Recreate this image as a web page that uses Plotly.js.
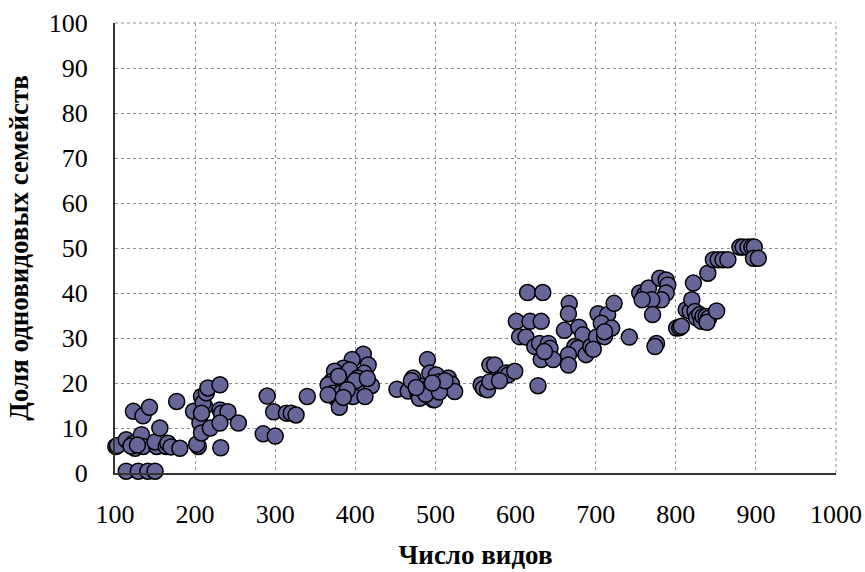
<!DOCTYPE html>
<html>
<head>
<meta charset="utf-8">
<script src="https://cdn.plot.ly/plotly-3.0.1.min.js"></script>
<style>html,body{margin:0;padding:0;background:#fff;}#chart{width:865px;height:572px;}</style>
</head>
<body>
<div id="chart"></div>
<script>
// Число видов (x) and Доля одновидовых семейств (y)
const speciesCount = [
  101,103,114,123,125,120,133,135,128,152,150,156,164,166,170,181,
  114,129,141,150,
  123,135,143,177,
  198,204,202,206,208,208,212,210,208,214,216,219,231,231,233,241,231,254,232,
  285,290,298,300,314,320,326,340,
  410,396,416,385,374,393,411,403,407,370,366,389,420,372,376,397,412,380,382,366,379,400,390,385,415,
  452,466,472,478,483,486,490,491,493,495,497,499,501,505,509,516,520,524,470,480,488,505,512,476,496,
  557,560,565,568,568,574,582,588,591,599,580,
  615,634,601,618,632,605,613,624,630,641,643,632,647,628,667,666,661,679,684,674,678,666,666,688,694,701,711,703,715,723,707,720,711,742,697,636,
  755,761,766,780,788,790,788,782,770,771,776,774,801,805,758,
  807,813,818,820,822,824,826,830,832,834,838,841,839,851,840,847,853,859,865,880,884,890,895,898,897,903
];
const monotypicShare = [
  5.9,6.1,7.4,6.6,5.5,6.0,8.5,5.9,6.2,5.9,6.9,10.0,5.9,6.6,5.8,5.5,
  0.4,0.4,0.4,0.4,
  13.7,12.7,14.6,15.9,
  13.7,5.9,6.4,11.1,8.9,17.0,14.8,15.6,13.3,17.8,18.9,10.0,19.6,14.0,13.3,13.6,11.1,11.1,5.6,
  8.7,17.1,13.6,8.2,13.3,13.3,12.9,17.0,
  26.4,25.2,24.0,23.3,22.6,22.9,22.2,21.1,20.0,20.3,19.6,19.2,19.4,17.7,16.6,17.0,17.0,14.6,17.7,17.4,21.5,20.5,18.5,16.8,21.0,
  18.6,18.2,21.1,17.7,19.3,17.0,25.2,18.8,22.2,17.7,16.3,16.3,21.8,20.3,19.2,21.1,19.8,18.1,20.5,16.6,17.5,18.0,20.5,19.0,20.0,
  19.6,18.8,18.5,20.3,24.0,24.0,21.1,22.2,21.8,22.6,20.5,
  40.1,40.1,33.7,33.7,33.7,30.3,30.2,28.1,28.8,28.8,27.7,25.2,25.2,19.4,37.7,35.4,31.7,32.4,30.7,28.1,27.7,26.3,24.0,26.3,28.1,30.2,30.3,35.4,35.2,37.7,33.3,32.2,31.4,30.2,27.5,27.0,
  40.0,39.6,41.1,43.3,42.9,41.8,40.0,38.5,38.5,35.2,28.8,28.1,32.2,32.3,38.5,
  32.6,36.3,36.0,38.5,42.2,35.9,34.5,35.2,33.7,34.8,34.8,34.4,33.5,36.0,44.4,47.4,47.4,47.4,47.4,50.2,50.2,50.2,50.2,50.2,47.7,47.7
];
const xTickValues = [100,200,300,400,500,600,700,800,900,1000];
const yTickValues = [0,10,20,30,40,50,60,70,80,90,100];

const trace = {
  type: 'scatter',
  mode: 'markers',
  x: speciesCount,
  y: monotypicShare,
  cliponaxis: false,
  marker: {size: 16, color: '#666699', line: {color: '#000000', width: 1.5}}
};

const serif = '"Liberation Serif", "Times New Roman", serif';
const layout = {
  width: 865, height: 572,
  margin: {l: 115, r: 29, t: 23, b: 99},
  paper_bgcolor: '#ffffff', plot_bgcolor: '#ffffff',
  showlegend: false,
  font: {family: serif, color: '#000000'},
  xaxis: {
    range: [100, 1000], tickvals: xTickValues, ticktext: xTickValues.map(String),
    showgrid: true, gridcolor: '#8c8c8c', griddash: 'dot', gridwidth: 1,
    showline: true, linecolor: '#333333', linewidth: 2,
    ticks: '', ticklabelstandoff: 17, zeroline: false,
    tickfont: {family: serif, size: 26, color: '#000000'},
    title: {text: 'Число видов', font: {family: serif, size: 27, color: '#000000', weight: 'bold'}, standoff: 17}
  },
  yaxis: {
    range: [0, 100], tickvals: yTickValues, ticktext: yTickValues.map(String),
    showgrid: true, gridcolor: '#8c8c8c', griddash: 'dot', gridwidth: 1,
    showline: true, linecolor: '#333333', linewidth: 2,
    ticks: '', ticklabelstandoff: 20, zeroline: false,
    tickfont: {family: serif, size: 26, color: '#000000'},
    title: {text: 'Доля одновидовых семейств', font: {family: serif, size: 27, color: '#000000', weight: 'bold'}, standoff: 12}
  },
  shapes: [
    {type: 'line', xref: 'paper', yref: 'paper', x0: 0, x1: 1, y0: 1, y1: 1, line: {color: '#8c8c8c', width: 1, dash: 'dot'}},
    {type: 'line', xref: 'paper', yref: 'paper', x0: 1, x1: 1, y0: 0, y1: 1, line: {color: '#8c8c8c', width: 1, dash: 'dot'}}
  ]
};

Plotly.newPlot('chart', [trace], layout, {displayModeBar: false, staticPlot: true});
</script>
</body>
</html>
